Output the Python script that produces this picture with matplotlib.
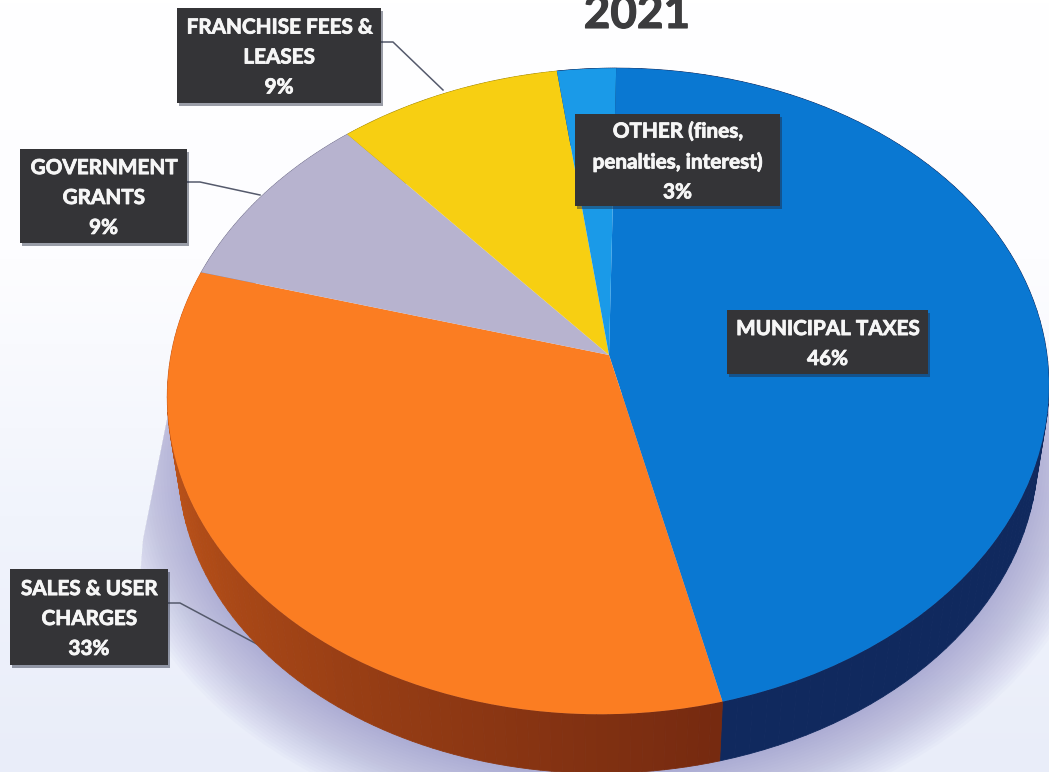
import matplotlib
matplotlib.use('Agg')
import matplotlib.pyplot as plt
import matplotlib.patheffects as pe
import matplotlib.transforms as mtransforms
from matplotlib.colors import LinearSegmentedColormap
from matplotlib.patches import Circle, Polygon, Rectangle
import numpy as np

# revenue shares, clockwise from 12 o'clock
categories = ['MUNICIPAL TAXES', 'SALES & USER\nCHARGES', 'GOVERNMENT\nGRANTS',
              'FRANCHISE FEES &\nLEASES', 'OTHER (fines,\npenalties, interest)']
printed_pct = [46, 33, 9, 9, 3]
# slice sizes, they differ a bit from the printed rounding
slice_sizes = [46, 33.3, 9.2, 9.1, 2.4]
title = '2021'

top_colors = ['#0a78d2', '#fb7d22', '#b7b3cf', '#f7cf12', '#1a9ae8']
side_start = ['#10295e', '#d2601c', '#77758f', '#a88c08', '#10295e']
side_end = ['#10295e', '#762a10', '#77758f', '#a88c08', '#10295e']

# label boxes: left, top, right, bottom in pixels
boxes = [(727, 310, 928, 374), (10, 569, 168, 665), (20, 149, 187, 243),
         (177, 8, 381, 103), (575, 114, 780, 206)]
leaders = [None, ([168, 180, 268], [603, 603, 650]), ([187, 200, 260], [182, 182, 195]),
           ([381, 393, 443], [42, 42, 90]), None]

W, H = 1049, 772
CX, CY = 609, 355
A, B, C, K = 319, 438, 8, 0.112
DEPTH, SHRINK = 68, 0.975


def project(u, v, d=0.0, grow=1.0):
    # tilted disc to pixels, d = 0 top face, d = 1 bottom face
    u = np.asarray(u) * grow
    v = np.asarray(v) * grow
    s = 1 - (1 - SHRINK) * d
    w = 1 + K * v
    return CX + s * (B * u + C * v) / w, CY + DEPTH * d - s * A * v / w


class Tilt(mtransforms.Transform):
    input_dims = 2
    output_dims = 2

    def __init__(self, d=0.0, grow=1.0):
        super().__init__()
        self.d = d
        self.grow = grow

    def transform_non_affine(self, xy):
        xy = np.asarray(xy)
        x, y = project(xy[:, 0], xy[:, 1], self.d, self.grow)
        return np.column_stack([x, y])


fig = plt.figure(figsize=(W / 100, H / 100), dpi=100)
ax = fig.add_axes([0, 0, 1, 1])
wedges, _ = ax.pie(slice_sizes, colors=top_colors, startangle=90, counterclock=False)
ax.set_aspect('auto')
ax.set_xlim(0, W)
ax.set_ylim(H, 0)
ax.axis('off')

# paper tint
tint = LinearSegmentedColormap.from_list('tint', ['#ffffff', '#fdfdff', '#f1f4fc', '#e9edf9'])
ax.imshow(np.linspace(0, 1, 256).reshape(-1, 1), cmap=tint, extent=(0, W, H, 0),
          aspect='auto', zorder=0)

# soft shadow under the pie, with its straight edge on the left
region = Polygon([(172, 395), (143, 540), (125, 772), (W, 772), (W, 395)], closed=True,
                 transform=ax.transData)
for grow in np.linspace(1.16, 1.0, 24):
    sh = Circle((0, 0), 1, fc='#8f8cc4', ec='none', alpha=0.035, zorder=1,
                transform=Tilt(1.05, grow) + ax.transData)
    ax.add_patch(sh)
    sh.set_clip_path(region)

# side wall
for w, c0, c1 in zip(wedges, side_start, side_end):
    cmap = LinearSegmentedColormap.from_list('side', [c0, c1])
    th = np.radians(np.linspace(w.theta1, w.theta2, 90))
    for i in range(len(th) - 1):
        a = th[i:i + 2]
        x0, y0 = project(np.cos(a), np.sin(a), 0)
        x1, y1 = project(np.cos(a), np.sin(a), 1)
        ax.fill(np.r_[x0, x1[::-1]], np.r_[y0, y1[::-1]], color=cmap(i / 88),
                lw=0.6, zorder=2)

for w in wedges:
    w.set_transform(Tilt() + ax.transData)
    w.set_zorder(3)
    w.set_edgecolor('none')

for line in leaders:
    if line is not None:
        ax.plot(line[0], line[1], color='#555a6c', lw=1.1, zorder=1.8)

for name, pct, box in zip(categories, printed_pct, boxes):
    l, t, r, b = box
    ax.add_patch(Rectangle((l + 2, t + 3), r - l, b - t, fc='#20283c', ec='none',
                           alpha=0.45, zorder=4))
    ax.add_patch(Rectangle((l, t), r - l, b - t, fc='#343437', ec='none', zorder=5))
    ax.text((l + r) / 2, (t + b) / 2 + 2, '%s\n%d%%' % (name, pct), color='#f6f6f6',
            fontfamily='Lato', fontweight='bold', fontsize=14.9, ha='center', va='center',
            linespacing=1.62, zorder=6,
            path_effects=[pe.withStroke(linewidth=0.6, foreground='#f6f6f6')])

ax.text(637, 28, title, color='#3c3c3e', fontfamily='Lato', fontweight='bold',
        fontsize=33, ha='center', va='baseline', zorder=6,
        path_effects=[pe.withStroke(linewidth=0.8, foreground='#3c3c3e')])

fig.savefig('out.png', dpi=100)
